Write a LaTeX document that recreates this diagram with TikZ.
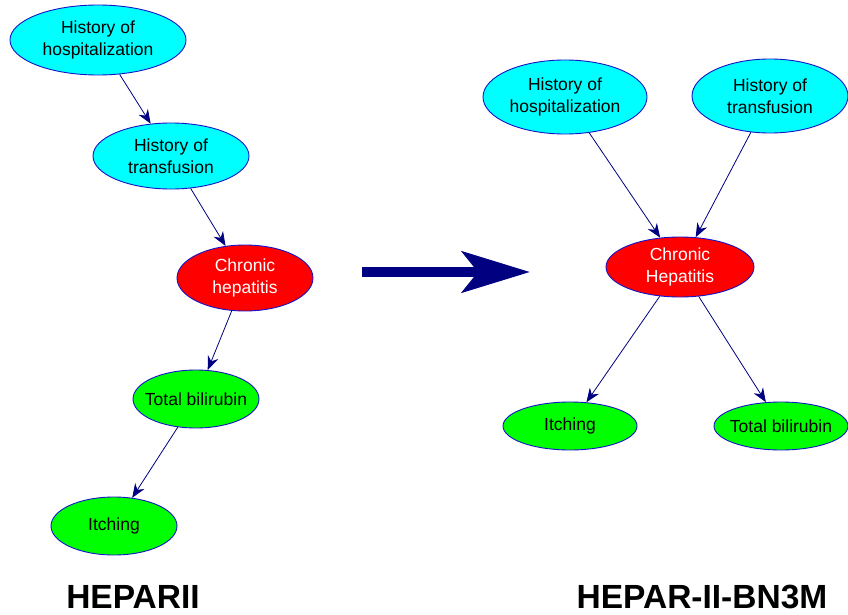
\documentclass[tikz,border=0pt]{standalone}
\usepackage{fontspec}
\setmainfont{Liberation Sans}
\usetikzlibrary{shapes.geometric,arrows.meta}
\definecolor{nodecyan}{RGB}{0,255,255}
\definecolor{nodered}{RGB}{255,0,0}
\definecolor{nodegreen}{RGB}{0,255,0}
\definecolor{rimblue}{RGB}{20,20,200}
\definecolor{edgenavy}{RGB}{0,0,128}
\begin{document}
\begin{tikzpicture}[x=1pt,y=-1pt,
  var/.style={ellipse, draw=rimblue, line width=0.9pt, inner xsep=-12pt, inner ysep=-6pt,
    align=center, font=\fontsize{17.5}{21.5}\selectfont},
  hist/.style={var, fill=nodecyan, text=black},
  disease/.style={var, fill=nodered, text=white},
  symptom/.style={var, fill=nodegreen, text=black},
  link/.style={draw=edgenavy, line width=0.8pt, -{Stealth[length=14pt,width=11pt]}},
  caption/.style={font=\fontsize{33.5}{40}\selectfont\bfseries, text=black},
]
\fill[white] (0,0) rectangle (848,615);
\useasboundingbox (0,0) rectangle (848,615);

% HEPARII: a single chain
\node[hist, minimum width=176pt, minimum height=70pt] (lhosp) at (98,40) {History of\\hospitalization};
\node[hist, minimum width=156pt, minimum height=66pt] (ltrans) at (171,156) {History of\\transfusion};
\node[disease, minimum width=136pt, minimum height=66pt] (lchron) at (245,278) {Chronic\\hepatitis};
\node[symptom, minimum width=126pt, minimum height=58pt] (lbili) at (196,399) {Total bilirubin};
\node[symptom, minimum width=126pt, minimum height=58pt] (litch) at (114,526) {Itching};

\draw[link] (lhosp) -- (ltrans);
\draw[link] (ltrans) -- (lchron);
\draw[link] (lchron) -- (lbili);
\draw[link] (lbili) -- (litch);

\node[caption] (lname) at (133,597) {HEPARII};

% transformation arrow
\coordinate (bigfrom) at (362,272);
\coordinate (bigto) at (530,272);
\draw[edgenavy, line width=10pt, -{Stealth[length=68pt,width=41pt,inset=16pt]}] (bigfrom) -- (bigto);

% HEPAR-II-BN3M: two causes, two effects
\node[hist, minimum width=164pt, minimum height=74pt] (rhosp) at (565,97) {History of\\hospitalization};
\node[hist, minimum width=156pt, minimum height=74pt] (rtrans) at (770,96) {History of\\transfusion};
\node[disease, minimum width=148pt, minimum height=60pt] (rchron) at (680,267) {Chronic\\Hepatitis};
\node[symptom, minimum width=134pt, minimum height=48pt] (ritch) at (570,426) {Itching};
\node[symptom, minimum width=134pt, minimum height=48pt] (rbili) at (781,426) {Total bilirubin};

\draw[link] (rhosp) -- (rchron);
\draw[link] (rtrans) -- (rchron);
\draw[link] (rchron) -- (ritch);
\draw[link] (rchron) -- (rbili);

\node[caption] (rname) at (702,597) {HEPAR-II-BN3M};
\end{tikzpicture}
\end{document}
